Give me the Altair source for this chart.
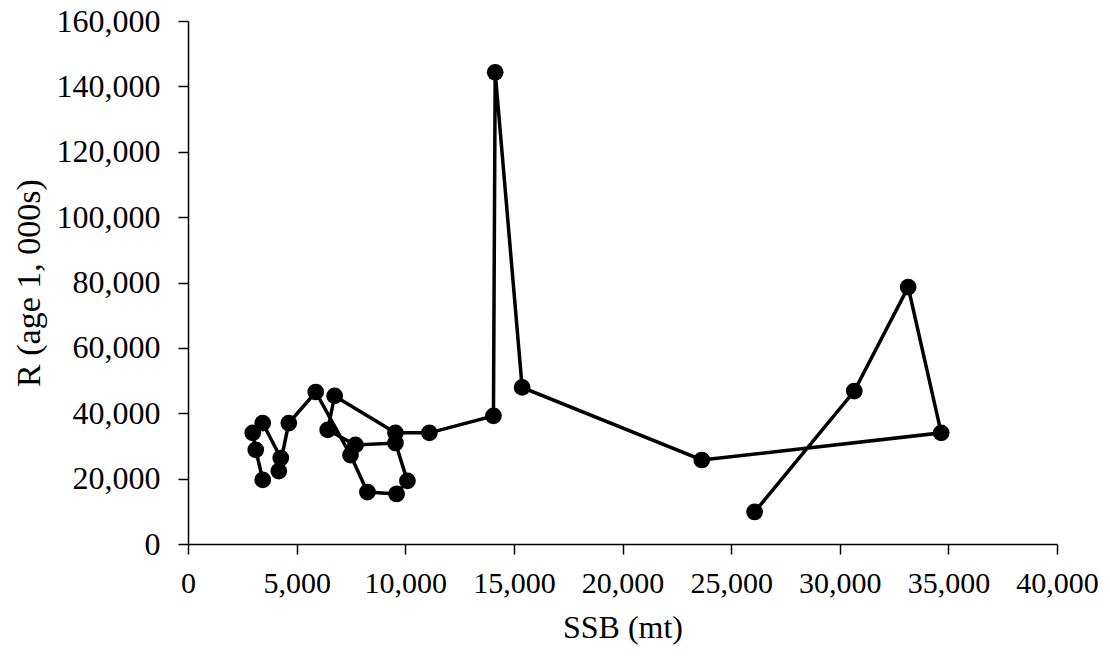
import altair as alt
import pandas as pd

# Stock-recruitment trajectory (chronological order)
ssb = [3440, 3120, 2980, 3440, 4270, 4180, 4640, 5880, 7480, 8260, 9600, 10100,
       9550, 7710, 6430, 6750, 9550, 11110, 14060, 14140, 15380, 23650, 34670,
       33150, 30670, 26080]
rec = [19600, 28800, 34000, 37000, 26300, 22300, 37000, 46500, 27200, 15900,
       15300, 19300, 30900, 30300, 34900, 45300, 34000, 34000, 39200, 144300,
       47900, 25700, 34000, 78600, 46800, 9800]
step = list(range(len(ssb)))

df = pd.DataFrame({"SSB": ssb, "R": rec, "step": step})

FONT = "Liberation Serif"

x = alt.X("SSB:Q", title="SSB (mt)",
          scale=alt.Scale(domain=[0, 40000], nice=False),
          axis=alt.Axis(values=list(range(0, 40001, 5000)), format=",.0f", grid=False,
                        labelOverlap=False, labelFlush=False))
y = alt.Y("R:Q", title="R (age 1, 000s)",
          scale=alt.Scale(domain=[0, 160000], nice=False),
          axis=alt.Axis(values=list(range(0, 160001, 20000)), format=",.0f", grid=False,
                        labelOverlap=False, labelFlush=False))

line = alt.Chart(df).mark_line(color="black", strokeWidth=3.5).encode(
    x=x, y=y, order="step:Q")
pts = alt.Chart(df).mark_point(filled=True, color="black", size=280, opacity=1).encode(
    x=x, y=y)

chart = (line + pts).properties(
    width=869, height=523,
    autosize=alt.AutoSizeParams(type="none"),
    padding={"left": 180, "top": 13, "right": 45, "bottom": 110},
).configure_view(stroke=None).configure_axis(
    domainColor="black", domainWidth=1.5, tickColor="black", tickWidth=1.5,
    tickSize=10, labelFont=FONT, labelColor="black",
    titleFont=FONT, titleFontWeight="normal", titleColor="black",
).configure_axisX(labelFontSize=30, titleFontSize=32, labelPadding=14,
                  titlePadding=14).configure_axisY(
    labelFontSize=32, titleFontSize=34, labelPadding=18, titlePadding=10)

chart.save("out.html", embed_options={"renderer": "svg", "actions": False})
